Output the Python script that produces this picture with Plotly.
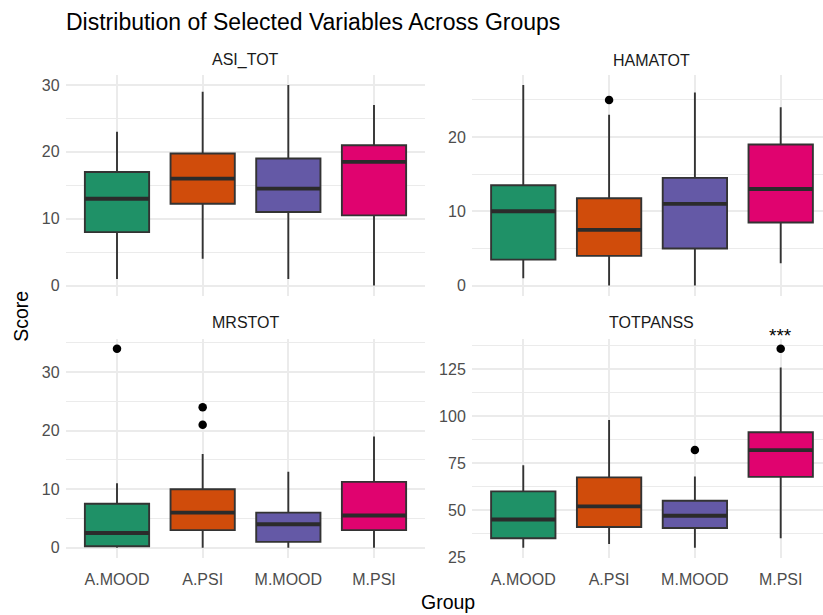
import plotly.graph_objects as go

# ---------------- data ----------------
groups = ["A.MOOD", "A.PSI", "M.MOOD", "M.PSI"]
group_colors = ["#1F9167", "#D04C0B", "#6459A6", "#E0036F"]
variables = ["ASI_TOT", "HAMATOT", "MRSTOT", "TOTPANSS"]

asi_lower = [1, 4, 1, 0]
asi_q1 = [8, 12.25, 11, 10.5]
asi_median = [13, 16, 14.5, 18.5]
asi_q3 = [17, 19.75, 19, 21]
asi_upper = [23, 29, 30, 27]
asi_outliers = [[], [], [], []]

ham_lower = [1, 0, 0, 3]
ham_q1 = [3.5, 4, 5, 8.5]
ham_median = [10, 7.5, 11, 13]
ham_q3 = [13.5, 11.75, 14.5, 19]
ham_upper = [27, 23, 26, 24]
ham_outliers = [[], [25], [], []]

mrs_lower = [0, 0, 0, 0]
mrs_q1 = [0.25, 3, 1, 3]
mrs_median = [2.5, 6, 4, 5.5]
mrs_q3 = [7.5, 10, 6, 11.25]
mrs_upper = [11, 16, 13, 19]
mrs_outliers = [[34], [21, 24], [], []]

pan_lower = [30, 32, 30, 35]
pan_q1 = [35, 41, 40.5, 67.75]
pan_median = [45, 52, 47, 82]
pan_q3 = [60, 67.5, 55, 91.5]
pan_upper = [74, 98, 68, 126]
pan_outliers = [[], [], [82], [136]]

significance_label = "***"
significance_group = "M.PSI"

y_ticks = {
    "ASI_TOT": [0, 10, 20, 30],
    "HAMATOT": [0, 10, 20],
    "MRSTOT": [0, 10, 20, 30],
    "TOTPANSS": [25, 50, 75, 100, 125],
}

stats = {
    "ASI_TOT": (asi_lower, asi_q1, asi_median, asi_q3, asi_upper, asi_outliers),
    "HAMATOT": (ham_lower, ham_q1, ham_median, ham_q3, ham_upper, ham_outliers),
    "MRSTOT": (mrs_lower, mrs_q1, mrs_median, mrs_q3, mrs_upper, mrs_outliers),
    "TOTPANSS": (pan_lower, pan_q1, pan_median, pan_q3, pan_upper, pan_outliers),
}

# ---------------- layout geometry ----------------
W, H = 823, 615
x_dom = {
    1: [65.6 / W, 425.4 / W],
    2: [471.8 / W, 1.0],
    3: [65.6 / W, 425.4 / W],
    4: [471.8 / W, 1.0],
}
x_rng = {1: [0.4, 4.6], 2: [0.4, 4.493], 3: [0.4, 4.6], 4: [0.4, 4.493]}
top_dom = [1 - 299.5 / H, 1 - 76 / H]
bot_dom = [1 - 565 / H, 1 - 343.3 / H]
y_dom = {1: top_dom, 2: top_dom, 3: bot_dom, 4: bot_dom}

GRID = "#EBEBEB"
BOXLINE = "#333333"
TICKCOL = "#4D4D4D"
FONT = "Liberation Sans, Arial, sans-serif"
BOX_W = 0.75

fig = go.Figure()

layout = dict(
    width=W, height=H, autosize=False,
    margin=dict(l=0, r=0, t=0, b=0),
    paper_bgcolor="white", plot_bgcolor="white",
    showlegend=False,
    font=dict(family=FONT, color=TICKCOL, size=16),
)

annotations = []

for p, var in enumerate(variables, start=1):
    lo, q1, med, q3, up, outl = stats[var]
    xa = "x" if p == 1 else f"x{p}"
    ya = "y" if p == 1 else f"y{p}"
    positions = list(range(1, len(groups) + 1))

    for i, g in enumerate(groups):
        fig.add_trace(go.Box(
            x=[positions[i]], q1=[q1[i]], median=[med[i]], q3=[q3[i]],
            lowerfence=[lo[i]], upperfence=[up[i]],
            width=BOX_W, whiskerwidth=0,
            fillcolor=group_colors[i],
            line=dict(color=BOXLINE, width=1.9),
            boxpoints=False, xaxis=xa, yaxis=ya, name=g,
            hoverinfo="skip",
        ))

    # thick median bars (ggplot fatten)
    mx, my = [], []
    for i in range(len(groups)):
        mx += [positions[i] - BOX_W / 2, positions[i] + BOX_W / 2, None]
        my += [med[i], med[i], None]
    fig.add_trace(go.Scatter(x=mx, y=my, mode="lines",
                             line=dict(color="#2B2B2B", width=3.9),
                             xaxis=xa, yaxis=ya, hoverinfo="skip"))

    # outliers
    ox, oy = [], []
    for i in range(len(groups)):
        for v in outl[i]:
            ox.append(positions[i])
            oy.append(v)
    if ox:
        fig.add_trace(go.Scatter(x=ox, y=oy, mode="markers",
                                 marker=dict(color="black", size=8.5),
                                 xaxis=xa, yaxis=ya, hoverinfo="skip",
                                 cliponaxis=False))

    # y range like ggplot (5% expansion)
    all_vals = lo + up + [v for o in outl for v in o]
    vmin, vmax = min(all_vals), max(all_vals)
    pad = 0.05 * (vmax - vmin)
    ticks = y_ticks[var]
    step = ticks[1] - ticks[0]

    xkey = "xaxis" if p == 1 else f"xaxis{p}"
    ykey = "yaxis" if p == 1 else f"yaxis{p}"
    layout[xkey] = dict(
        domain=x_dom[p], range=x_rng[p], anchor=ya,
        tickmode="array", tickvals=positions,
        ticktext=groups if p >= 3 else [""] * 4,
        showticklabels=p >= 3,
        showgrid=True, gridcolor=GRID, gridwidth=1.6,
        zeroline=False, showline=False,
        ticks="outside", ticklen=7, tickcolor="rgba(0,0,0,0)",
        tickfont=dict(size=16, color=TICKCOL, family=FONT),
        fixedrange=True,
    )
    layout[ykey] = dict(
        domain=y_dom[p], range=[vmin - pad, vmax + pad], anchor=xa,
        tickmode="array", tickvals=ticks, ticktext=[str(t) for t in ticks],
        showgrid=True, gridcolor=GRID, gridwidth=1.6,
        minor=dict(tickmode="linear", tick0=ticks[0] - step / 2, dtick=step,
                   showgrid=True, gridcolor=GRID, gridwidth=1.0, ticks=""),
        zeroline=False, showline=False, ticks="",
        tickfont=dict(size=16, color=TICKCOL, family=FONT),
        ticklabelstandoff=5,
        fixedrange=True,
    )

    # strip label (centred on the full, uncropped panel)
    cx = (x_dom[p][0] + (x_dom[p][0] + (x_dom[1][1] - x_dom[1][0]))) / 2
    cy = 1 - (61 / H if p <= 2 else 326.5 / H)
    annotations.append(dict(text=var, xref="paper", yref="paper", x=cx, y=cy,
                            xanchor="center", yanchor="middle", showarrow=False,
                            font=dict(size=16, color="#1A1A1A", family=FONT)))

# significance mark above M.PSI in TOTPANSS
sig_idx = groups.index(significance_group) + 1
annotations.append(dict(text=significance_label, xref="x4", yref="paper",
                        x=sig_idx, y=1 - 340 / H, xanchor="center", yanchor="middle",
                        showarrow=False, font=dict(size=19, color="black", family=FONT)))

# title and axis titles
annotations.append(dict(text="Distribution of Selected Variables Across Groups",
                        xref="paper", yref="paper", x=64 / W, y=1 - 22 / H,
                        xanchor="left", yanchor="middle", showarrow=False,
                        font=dict(size=23, color="black", family=FONT)))
annotations.append(dict(text="Score", xref="paper", yref="paper", x=21 / W, y=1 - 321 / H,
                        xanchor="center", yanchor="middle", textangle=-90, showarrow=False,
                        font=dict(size=19.5, color="black", family=FONT)))
annotations.append(dict(text="Group", xref="paper", yref="paper", x=448 / W, y=1 - 610 / H,
                        xanchor="center", yanchor="middle", showarrow=False,
                        font=dict(size=19.5, color="black", family=FONT)))

layout["annotations"] = annotations
fig.update_layout(**layout)

fig.write_html("out.html", config={"displayModeBar": False},
               post_script="document.body.style.margin='0';document.body.style.overflow='hidden';")
